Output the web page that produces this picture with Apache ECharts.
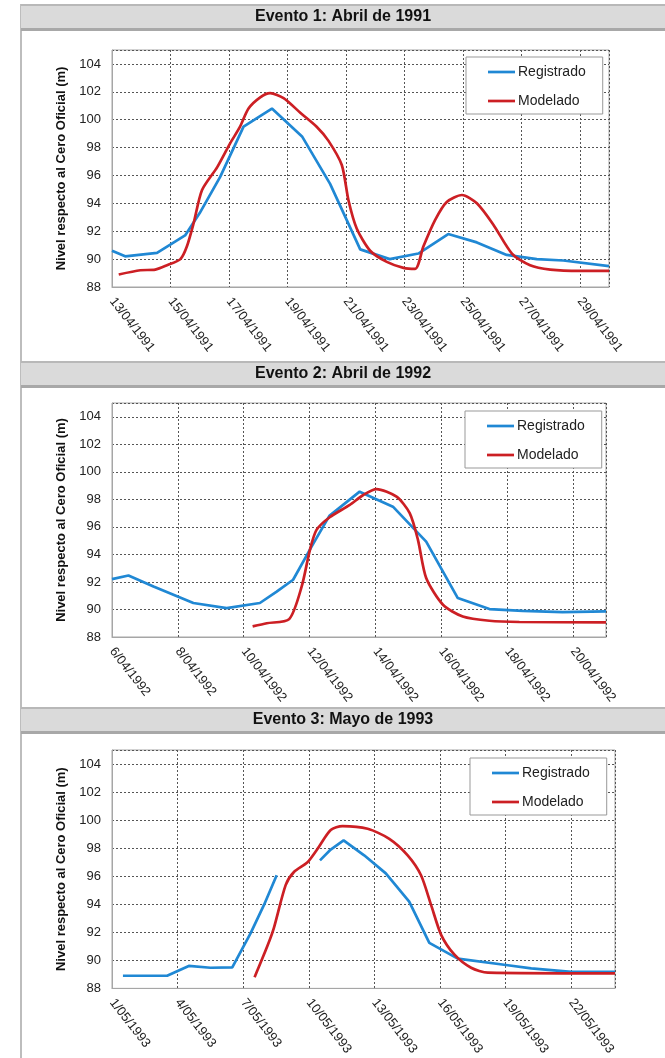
<!DOCTYPE html>
<html>
<head>
<meta charset="utf-8">
<script src="https://cdn.jsdelivr.net/npm/echarts@6/dist/echarts.min.js"></script>
<style>
html,body{margin:0;padding:0;background:#fff;}
#chart{width:665px;height:1058px;}
</style>
</head>
<body>
<div id="chart"></div>
<script>
// ---- Data (x = day of month, y = level in m) ----
const titles = ['Evento 1: Abril de 1991', 'Evento 2: Abril de 1992', 'Evento 3: Mayo de 1993'];
const seriesNames = ['Registrado', 'Modelado'];
const yAxisName = 'Nivel respecto al Cero Oficial (m)';

// Event 1: April 1991 (axis 13/04 .. 30/04, ticks every 2 days)
const ev1Start = 13, ev1End = 30, ev1Step = 2, ev1Month = '04', ev1Year = '1991';
const reg1 = [[13.0,90.6],[13.45,90.2],[14.54,90.45],[15.5,91.7],[16.0,93.3],[16.7,95.9],[17.5,99.5],[18.47,100.8],[19.5,98.8],[20.46,95.4],[21.49,90.7],[22.5,90.0],[23.48,90.4],[24.5,91.8],[25.48,91.2],[26.5,90.3],[27.53,90.0],[28.44,89.9],[30.0,89.5]];
const mod1 = [[13.23,88.9],[13.97,89.2],[14.48,89.25],[14.88,89.56],[15.34,90.0],[15.56,90.9],[15.79,92.56],[16.08,94.96],[16.6,96.6],[17.04,98.3],[17.38,99.5],[17.67,100.8],[18.07,101.6],[18.41,101.9],[18.87,101.55],[19.44,100.5],[20.0,99.5],[20.4,98.5],[20.86,96.75],[21.09,94.2],[21.37,92.2],[21.83,90.6],[22.4,89.8],[22.97,89.37],[23.37,89.3],[23.65,90.9],[24.05,92.8],[24.45,94.1],[24.97,94.6],[25.48,94.0],[26.05,92.45],[26.68,90.4],[27.3,89.56],[27.99,89.25],[29.0,89.15],[30.0,89.15]];

// Event 2: April 1992 (axis 6/04 .. 21/04, ticks every 2 days)
const ev2Start = 6, ev2End = 21, ev2Step = 2, ev2Month = '04', ev2Year = '1992';
const reg2 = [[6.0,92.2],[6.5,92.47],[7.26,91.67],[8.47,90.47],[9.48,90.1],[10.49,90.47],[11.0,91.3],[11.5,92.16],[12.06,94.57],[12.6,96.8],[13.52,98.56],[14.53,97.47],[15.54,94.93],[16.5,90.83],[17.46,90.03],[18.47,89.9],[19.68,89.8],[21.0,89.86]];
const mod2 = [[10.27,88.77],[10.7,89.0],[11.38,89.3],[11.76,91.67],[12.01,94.33],[12.21,95.78],[12.61,96.7],[13.22,97.6],[13.62,98.3],[14.03,98.75],[14.64,98.2],[15.04,97.0],[15.29,95.06],[15.54,92.28],[16.05,90.34],[16.65,89.49],[17.46,89.18],[18.37,89.09],[21.0,89.06]];

// Event 3: May 1993 (axis 1/05 .. 24/05, ticks every 3 days)
const ev3Start = 1, ev3End = 24, ev3Step = 3, ev3Month = '05', ev3Year = '1993';
const reg3 = [[1.5,88.9],[3.52,88.9],[4.51,89.6],[5.5,89.47],[6.5,89.5],[7.34,91.94],[7.95,93.95],[8.53,96.07],[9.5,null],[10.51,97.13],[11.0,97.9],[11.59,98.55],[12.53,97.49],[13.52,96.2],[14.59,94.19],[15.51,91.24],[16.81,90.12],[19.1,89.65],[20.17,89.42],[22.0,89.18],[24.0,89.18]];
const mod3 = [[7.52,88.8],[8.1,91.0],[8.4,92.3],[8.94,95.36],[9.32,96.3],[9.94,97.0],[10.4,97.96],[11.0,99.3],[11.54,99.57],[12.69,99.38],[13.68,98.67],[14.52,97.49],[15.13,96.07],[15.59,93.95],[16.05,91.82],[16.66,90.4],[17.42,89.47],[18.19,89.12],[24.0,89.07]];

const yMin = 88, yMax = 105, yStep = 2;

// ---- Build chart ----
const FONT = 'Liberation Sans, Arial, sans-serif';
const BLUE = '#2088d4';
const RED = '#cc1f24';
const events = [
  {start: ev1Start, end: ev1End, step: ev1Step, month: ev1Month, year: ev1Year, reg: reg1, mod: mod1, pad: true},
  {start: ev2Start, end: ev2End, step: ev2Step, month: ev2Month, year: ev2Year, reg: reg2, mod: mod2, pad: false},
  {start: ev3Start, end: ev3End, step: ev3Step, month: ev3Month, year: ev3Year, reg: reg3, mod: mod3, pad: false}
];
const grids = [
  {left: 112, top: 50, width: 497, height: 237},
  {left: 112, top: 403, width: 494, height: 234},
  {left: 112, top: 750, width: 503, height: 241}
];
const legendPos = [{left: 466, top: 57}, {left: 465, top: 411}, {left: 470, top: 758}];
const bands = [4, 361, 707];

const option = {
  animation: false,
  backgroundColor: '#fff',
  grid: grids.map(g => Object.assign({show: true, borderColor: '#a6a6a6', borderWidth: 1, backgroundColor: '#fff'}, g)),
  xAxis: events.map((e, i) => ({
    type: 'value', gridIndex: i, min: 0, max: e.end - e.start, interval: e.step,
    axisLine: {show: true, lineStyle: {color: '#a6a6a6'}},
    axisTick: {show: false},
    splitLine: {show: true, lineStyle: {color: '#555', type: [2, 2], width: 1}},
    axisLabel: {
      rotate: -52, margin: 12, fontSize: 13, fontFamily: FONT, color: '#222', showMaxLabel: false,
      formatter: v => { const d = e.start + v; return (e.pad && d < 10 ? '0' : '') + d + '/' + e.month + '/' + e.year; }
    }
  })),
  yAxis: events.map((e, i) => ({
    type: 'value', gridIndex: i, min: yMin, max: yMax, interval: yStep,
    name: yAxisName, nameLocation: 'middle', nameGap: 38,
    nameTextStyle: {fontSize: 13, fontWeight: 'bold', fontFamily: FONT, color: '#111'},
    axisLine: {show: true, lineStyle: {color: '#a6a6a6'}},
    axisTick: {show: false},
    splitLine: {show: true, lineStyle: {color: '#555', type: [2, 2], width: 1}},
    axisLabel: {fontSize: 13, fontFamily: FONT, color: '#222', margin: 11, showMaxLabel: false}
  })),
  legend: events.map((e, i) => ({
    left: legendPos[i].left, top: legendPos[i].top, orient: 'vertical',
    data: seriesNames.map(n => n + (i ? '\u200b'.repeat(i) : '')),
    formatter: n => n.replace(/\u200b/g, ''),
    icon: 'path://M0 0H30V3H0Z', itemWidth: 27, itemHeight: 14, itemGap: 15,
    padding: [8, 17, 6, 22], borderColor: '#999', borderWidth: 1, backgroundColor: '#fff',
    textStyle: {fontSize: 14, fontFamily: FONT, color: '#222', padding: [0, 0, 0, -2]}
  })),
  series: [],
  graphic: {elements: []}
};

events.forEach((e, i) => {
  const suffix = i ? '\u200b'.repeat(i) : '';
  option.series.push({
    name: seriesNames[0] + suffix, type: 'line', xAxisIndex: i, yAxisIndex: i,
    symbol: 'none', connectNulls: false, color: BLUE,
    lineStyle: {color: BLUE, width: 2.7},
    data: e.reg.map(p => [p[0] - e.start, p[1]])
  });
  option.series.push({
    name: seriesNames[1] + suffix, type: 'line', xAxisIndex: i, yAxisIndex: i,
    symbol: 'none', smooth: 0.25, color: RED,
    lineStyle: {color: RED, width: 2.7},
    data: e.mod.map(p => [p[0] - e.start, p[1]])
  });
});

const els = option.graphic.elements;
els.push({type: 'rect', shape: {x: 20, y: 4, width: 2, height: 1054}, style: {fill: '#bdbdbd'}, z: 10});
bands.forEach((y, i) => {
  els.push({type: 'rect', shape: {x: 21, y: y, width: 644, height: 27}, style: {fill: '#dadada'}, z: 10});
  els.push({type: 'rect', shape: {x: 21, y: y, width: 644, height: 2}, style: {fill: '#b8b8b8'}, z: 11});
  els.push({type: 'rect', shape: {x: 21, y: y + 24, width: 644, height: 3}, style: {fill: '#a8a8a8'}, z: 11});
  els.push({type: 'text', x: 343, y: y + 13, z: 12,
    style: {text: titles[i], font: 'bold 16px ' + FONT, fill: '#111',
      textAlign: 'center', textVerticalAlign: 'middle', align: 'center', verticalAlign: 'middle'}});
});

const chart = echarts.init(document.getElementById('chart'), null, {renderer: 'canvas'});
chart.setOption(option);
</script>
</body>
</html>
